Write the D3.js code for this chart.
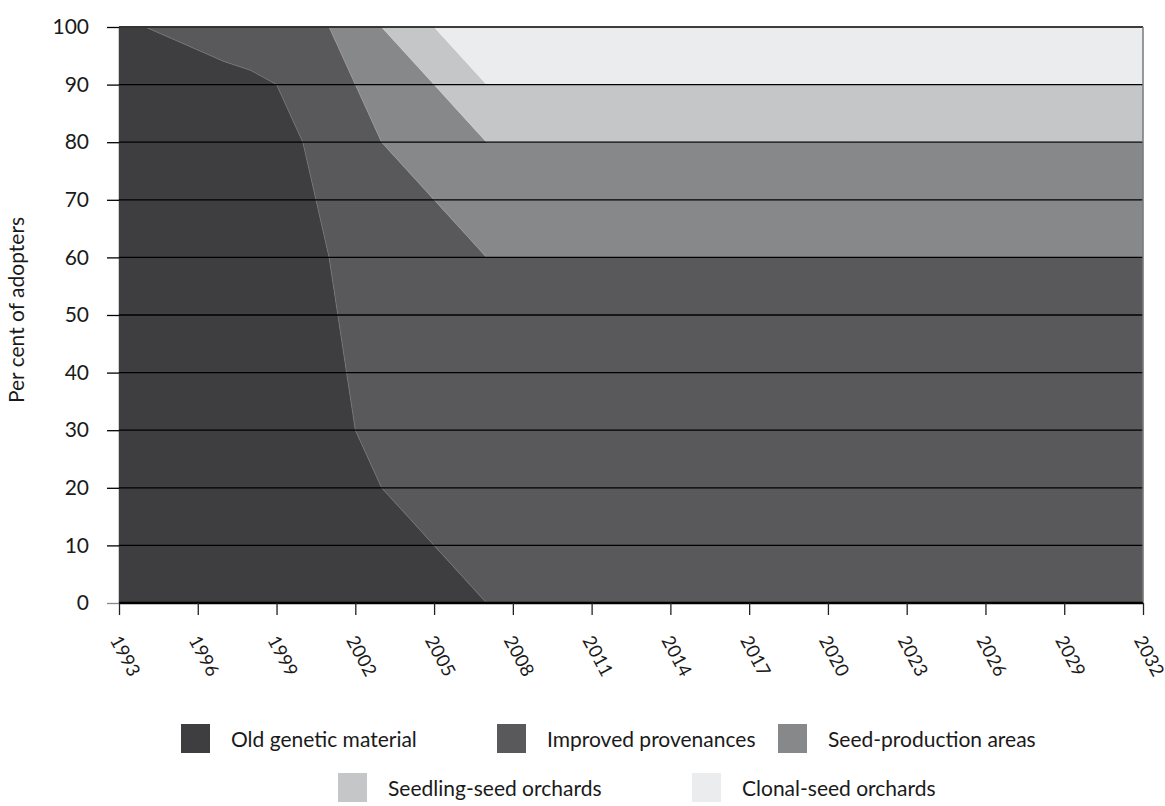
<!DOCTYPE html>
<html>
<head>
<meta charset="utf-8">
<script src="https://cdn.jsdelivr.net/npm/d3@7"></script>
<style>
  html, body { margin: 0; padding: 0; background: #ffffff; }
  svg { display: block; font-family: Lato, "Open Sans", sans-serif; }
</style>
</head>
<body>
<svg id="chart" width="1165" height="806"></svg>
<script>
// ---- data ----
const years = [1993,1994,1995,1996,1997,1998,1999,2000,2001,2002,2003,2004,2005,2006,2007,2008,2009,2010,2011,2012,2013,2014,2015,2016,2017,2018,2019,2020,2021,2022,2023,2024,2025,2026,2027,2028,2029,2030,2031,2032];
const oldGenetic   = [100,100,98,96,94,92.5,90,80,60,30,20,15,10,5,0,0,0,0,0,0,0,0,0,0,0,0,0,0,0,0,0,0,0,0,0,0,0,0,0,0];
const improvedProv = [0,0,2,4,6,7.5,10,20,40,60,60,60,60,60,60,60,60,60,60,60,60,60,60,60,60,60,60,60,60,60,60,60,60,60,60,60,60,60,60,60];
const seedProdArea = [0,0,0,0,0,0,0,0,0,10,20,20,20,20,20,20,20,20,20,20,20,20,20,20,20,20,20,20,20,20,20,20,20,20,20,20,20,20,20,20];
const seedlingSeed = [0,0,0,0,0,0,0,0,0,0,0,5,10,10,10,10,10,10,10,10,10,10,10,10,10,10,10,10,10,10,10,10,10,10,10,10,10,10,10,10];
const clonalSeed   = [0,0,0,0,0,0,0,0,0,0,0,0,0,5,10,10,10,10,10,10,10,10,10,10,10,10,10,10,10,10,10,10,10,10,10,10,10,10,10,10];
const seriesNames = ["Old genetic material","Improved provenances","Seed-production areas","Seedling-seed orchards","Clonal-seed orchards"];
const xTickYears = [1993,1996,1999,2002,2005,2008,2011,2014,2017,2020,2023,2026,2029,2032];
const yTicks = [0,10,20,30,40,50,60,70,80,90,100];
const yTitle = "Per cent of adopters";

const colors = ["#3e3e40","#59595b","#87888a","#c5c6c8","#ebeced"];
const FONT = "Lato, 'Open Sans', sans-serif";

// ---- layout ----
const svg = d3.select("#chart");
const mLeft = 119, mRight = 1143, mTop = 27, mBottom = 603;

const x = d3.scaleLinear().domain([1993, 2032]).range([mLeft, mRight]);
const y = d3.scaleLinear().domain([0, 100]).range([mBottom, mTop]);

const keys = ["old","imp","spa","ssd","csd"];
const table = years.map((yr, i) => ({
  year: yr, old: oldGenetic[i], imp: improvedProv[i], spa: seedProdArea[i], ssd: seedlingSeed[i], csd: clonalSeed[i]
}));
const stack = d3.stack().keys(keys);
const layers = stack(table);

const area = d3.area()
  .x(d => x(d.data.year))
  .y0(d => y(d[0]))
  .y1(d => y(d[1]));

svg.append("g").selectAll("path")
  .data(layers)
  .join("path")
  .attr("d", area)
  .attr("fill", (d, i) => colors[i])
  .attr("stroke", (d, i) => colors[i])
  .attr("stroke-width", 0.5);

// subtle light edges between layers
const edge = d3.line().x(d => x(d.data.year)).y(d => y(d[1]));
svg.append("g").selectAll("path")
  .data(layers.slice(0, 4))
  .join("path")
  .attr("d", edge)
  .attr("fill", "none")
  .attr("stroke", "rgba(255,255,255,0.18)")
  .attr("stroke-width", 0.8);

// ---- gridlines + y axis ----
const yAxis = d3.axisLeft(y).tickValues(yTicks).tickSize(12).tickPadding(18).tickFormat(d3.format("d"));
const gy = svg.append("g").attr("transform", `translate(${mLeft},0)`).call(yAxis);
gy.select(".domain").remove();
gy.selectAll(".tick line").attr("stroke", "#000").attr("stroke-width", 1.3);
gy.selectAll(".tick text").attr("font-size", 21).attr("fill", "#1a1a1a").attr("font-family", FONT);
gy.selectAll(".tick").filter(d => d === 0).select("line").attr("stroke", "#888");

svg.append("g").selectAll("line")
  .data(yTicks.filter(d => d > 0))
  .join("line")
  .attr("x1", mLeft).attr("x2", mRight)
  .attr("y1", d => y(d)).attr("y2", d => y(d))
  .attr("stroke", "#000").attr("stroke-width", 1.3);

// right edge
svg.append("line").attr("x1", mRight).attr("x2", mRight).attr("y1", mTop).attr("y2", mBottom)
  .attr("stroke", "#7a7a7a").attr("stroke-width", 1.5);

// ---- x axis ----
const xAxis = d3.axisBottom(x).tickValues(xTickYears).tickSize(12).tickFormat(d3.format("d"));
const gx = svg.append("g").attr("transform", `translate(0,${mBottom})`).call(xAxis);
gx.select(".domain").attr("stroke", "#000").attr("stroke-width", 2.5).attr("d", `M${mLeft},0H${mRight}`);
gx.selectAll(".tick line").attr("stroke", "#222").attr("stroke-width", 1.3);
gx.selectAll(".tick text")
  .attr("font-size", 18.5)
  .attr("fill", "#1a1a1a")
  .attr("font-family", FONT)
  .attr("text-anchor", "start")
  .attr("dy", null)
  .attr("y", 0)
  .attr("transform", "translate(-10,37) rotate(62)");

// y title
svg.append("text")
  .attr("transform", `translate(24,310) rotate(-90)`)
  .attr("text-anchor", "middle")
  .attr("font-size", 21)
  .attr("font-family", FONT)
  .attr("fill", "#1a1a1a")
  .text(yTitle);

// ---- legend ----
const legendPos = [
  {x: 181, y: 724}, {x: 497, y: 724}, {x: 778, y: 724},
  {x: 338, y: 773}, {x: 692, y: 773}
];
const lg = svg.append("g").selectAll("g")
  .data(seriesNames)
  .join("g")
  .attr("transform", (d, i) => `translate(${legendPos[i].x},${legendPos[i].y})`);
lg.append("rect").attr("width", 29).attr("height", 29).attr("fill", (d, i) => colors[i]);
lg.append("text").attr("x", 50).attr("y", 23).attr("font-size", 21).attr("font-family", FONT)
  .attr("fill", "#1a1a1a").text(d => d);
</script>
</body>
</html>
